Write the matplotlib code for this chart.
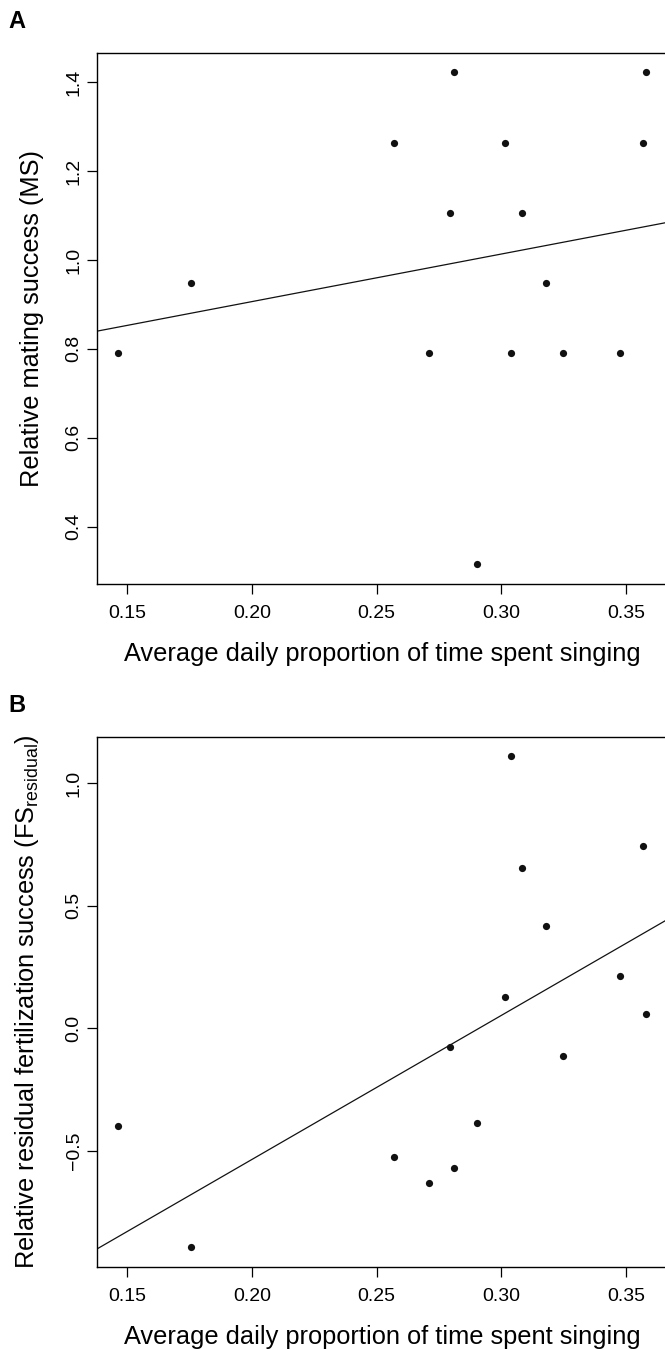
import numpy as np
import matplotlib.pyplot as plt

plt.rcParams['font.family'] = ['Liberation Sans', 'DejaVu Sans']

# average daily proportion of time spent singing (same 15 males in A and B)
singing = [0.1464, 0.1756, 0.2570, 0.2711, 0.2794, 0.2812, 0.2904, 0.3013,
           0.3038, 0.3082, 0.3179, 0.3247, 0.3475, 0.3568, 0.3582]
# relative mating success (MS)
ms = [0.790, 0.948, 1.263, 0.790, 1.106, 1.422, 0.316, 1.263,
      0.790, 1.106, 0.948, 0.790, 0.790, 1.263, 1.422]
# relative residual fertilization success
fs_res = [-0.397, -0.891, -0.523, -0.630, -0.076, -0.568, -0.386, 0.130,
          1.109, 0.652, 0.417, -0.113, 0.212, 0.743, 0.058]

xticks = [0.15, 0.20, 0.25, 0.30, 0.35]
yticks_a = [0.4, 0.6, 0.8, 1.0, 1.2, 1.4]
yticks_b = [-0.5, 0.0, 0.5, 1.0]

xlab = "Average daily proportion of time spent singing"
ylab_a = "Relative mating success (MS)"
ylab_b = r"Relative residual fertilization success (FS$_{\mathregular{residual}}$)"

W, H = 665, 1350
LEFT, RIGHT = 97.3, 667.5
fig = plt.figure(figsize=(W / 100, H / 100), dpi=100)


def r_lim(v):
    # R pads the data range by 4% on each side
    lo, hi = min(v), max(v)
    d = (hi - lo) * 0.04
    return lo - d, hi + d


def panel(top, bottom, y, yticks, ylab, ylab_x, letter):
    ax = fig.add_axes([LEFT / W, 1 - bottom / H, (RIGHT - LEFT) / W, (bottom - top) / H])
    ax.plot(singing, y, 'o', color='#111111', ms=5.2, mew=0)
    slope, icpt = np.polyfit(singing, y, 1)
    ax.axline((0, icpt), slope=slope, color='#111111', lw=0.9)
    ax.set_xlim(r_lim(singing))
    ax.set_ylim(r_lim(y))
    ax.set_xticks(xticks)
    ax.set_xticklabels(['%.2f' % t for t in xticks])
    ax.set_yticks(yticks)
    ax.set_yticklabels([('%.1f' % t).replace('-', '\u2212') for t in yticks],
                       rotation=90, va='center')
    ax.tick_params(length=7.5, width=0.9, labelsize=14, pad=8)
    ax.tick_params(axis='y', pad=3)
    for s in ax.spines.values():
        s.set_linewidth(1.0)
    fig.text((LEFT + RIGHT) / 2 / W, 1 - (bottom + 70) / H, xlab, fontsize=18.3,
             ha='center', va='center')
    fig.text(ylab_x / W, 1 - (top + bottom) / 2 / H, ylab, fontsize=18.3,
             rotation=90, rotation_mode='anchor', ha='center', va='baseline')
    fig.text(8 / W, 1 - (top - 31) / H, letter, fontsize=17, fontweight='bold',
             va='center', ha='left')
    return ax


panel(52.7, 583.7, ms, yticks_a, ylab_a, 39.5, 'A')
panel(736.7, 1266.7, fs_res, yticks_b, ylab_b, 34, 'B')

fig.savefig('out.png', dpi=100)
